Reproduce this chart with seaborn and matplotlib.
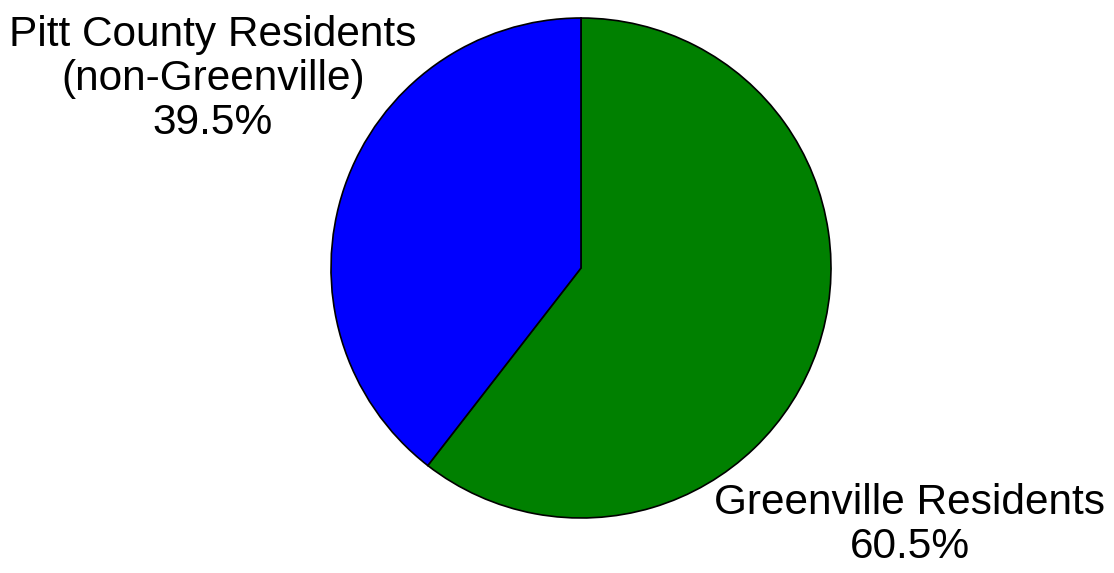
import matplotlib
matplotlib.use("Agg")
import matplotlib.pyplot as plt
import seaborn as sns

categories = ["Greenville Residents", "Pitt County Residents\n(non-Greenville)"]
values = [60.5, 39.5]
colors = ["#008000", "#0000FF"]

sns.set_theme(style="white")
plt.rcParams['font.family'] = ['Liberation Sans', 'DejaVu Sans']

W, H = 1114, 573
fig = plt.figure(figsize=(W / 100, H / 100), dpi=100)
cx, cy, r = 581, 268, 250
ax = fig.add_axes([(cx - r) / W, (H - cy - r) / H, 2 * r / W, 2 * r / H])
ax.pie(values, colors=colors, startangle=90, counterclock=False,
       wedgeprops=dict(edgecolor="black", linewidth=1.2), radius=1)
ax.set_xlim(-1.0, 1.0)
ax.set_ylim(-1.0, 1.0)
ax.set_aspect("equal")
ax.axis("off")

label_pos = [(910, 525), (213, 79)]
for cat, val, (lx, ly) in zip(categories, values, label_pos):
    fig.text(lx / W, 1 - ly / H, f"{cat}\n{val:.1f}%", ha="center", va="center",
             fontsize=30.5, color="black", linespacing=1.12)

fig.savefig("out.png", dpi=100)
